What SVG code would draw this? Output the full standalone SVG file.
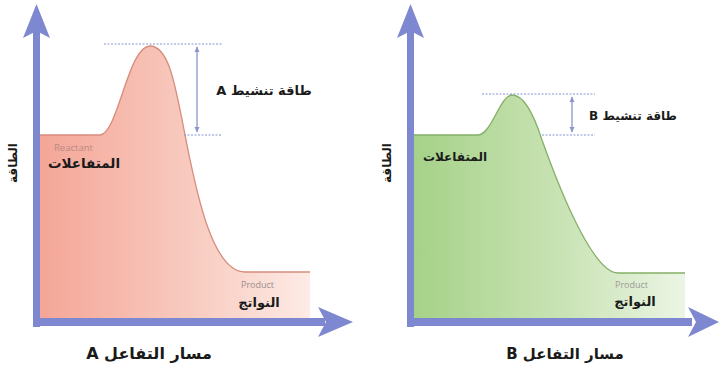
<svg xmlns="http://www.w3.org/2000/svg" width="720" height="369" viewBox="0 0 720 369">
<defs>
<linearGradient id="gA" gradientUnits="userSpaceOnUse" x1="40" y1="0" x2="310" y2="0">
<stop offset="0" stop-color="#f4a697"/><stop offset="0.55" stop-color="#f8cabf"/><stop offset="1" stop-color="#fdebe5"/>
</linearGradient>
<linearGradient id="gB" gradientUnits="userSpaceOnUse" x1="414" y1="0" x2="685" y2="0">
<stop offset="0" stop-color="#a6d288"/><stop offset="0.55" stop-color="#c9e3b5"/><stop offset="1" stop-color="#ecf5e4"/>
</linearGradient>
<marker id="ah" viewBox="0 0 6 6" refX="5" refY="3" markerWidth="6" markerHeight="6" orient="auto-start-reverse" markerUnits="userSpaceOnUse">
<path d="M0,0.5 L5.5,3 L0,5.5 Z" fill="#8a95cc"/>
</marker>
</defs>
<style>
.axis{fill:#7d88d0}
.dot{stroke:#8592d2;stroke-width:1;stroke-dasharray:2 1.5;fill:none}
.dbl{stroke:#8a95cc;stroke-width:1.3;fill:none}
.ar{font-family:"DejaVu Sans",sans-serif;font-weight:bold;fill:#1a1a1a;text-anchor:middle;direction:rtl;unicode-bidi:embed}
.en{font-family:"Open Sans","Liberation Sans",sans-serif}
.title{font-family:"DejaVu Sans",sans-serif;font-weight:bold;fill:#1a1a1a;text-anchor:middle;direction:rtl;unicode-bidi:embed}
</style>
<rect width="720" height="369" fill="#ffffff"/>

<g id="chartA">
<path d="M40,135 H100 C118,134 128,46 150,46 C170,46 176,90 186,140 C196,190 212,272 245,272 H310 V322 H40 Z" fill="url(#gA)"/>
<path d="M40,135 H100 C118,134 128,46 150,46 C170,46 176,90 186,140 C196,190 212,272 245,272 H310" fill="none" stroke="#d88c7d" stroke-width="1.3"/>
</g>
<g id="chartB">
<path d="M414,135 H478 C492,134 500,95 512,95 C524,95 534,115 542,140 C552,168 590,273 618,273 H685 V322 H414 Z" fill="url(#gB)"/>
<path d="M414,135 H478 C492,134 500,95 512,95 C524,95 534,115 542,140 C552,168 590,273 618,273 H685" fill="none" stroke="#84b067" stroke-width="1.3"/>
</g>

<g id="axisA">
<rect class="axis" x="33" y="28" width="7" height="299"/>
<polygon class="axis" points="36.5,4 50,38 36.5,31 23,38"/>
<rect class="axis" x="33" y="318" width="292" height="8"/>
<polygon class="axis" points="353,322 318,307 326,322 318,337"/>
</g>
<g id="axisB">
<rect class="axis" x="407" y="28" width="7" height="299"/>
<polygon class="axis" points="410.5,4 424,38 410.5,31 397,38"/>
<rect class="axis" x="407" y="318" width="285" height="8"/>
<polygon class="axis" points="719,322 688,307 696,322 688,337"/>
</g>

<g id="connectors">
<line class="dot" x1="104" y1="44" x2="222" y2="44"/>
<line class="dot" x1="184" y1="135" x2="222" y2="135"/>
<line class="dbl" x1="197" y1="47" x2="197" y2="132" marker-start="url(#ah)" marker-end="url(#ah)"/>
<line class="dot" x1="482" y1="94" x2="595" y2="94"/>
<line class="dot" x1="542" y1="135" x2="595" y2="135"/>
<line class="dbl" x1="572" y1="97" x2="572" y2="132" marker-start="url(#ah)" marker-end="url(#ah)"/>
</g>

<g id="labelsA">
<text class="ar" x="264" y="95" font-size="13">طاقة تنشيط A</text>
<text class="en" x="54" y="151" font-size="9.5" fill="#b98a82">Reactant</text>
<text class="ar" x="84" y="168" font-size="13.5">المتفاعلات</text>
<text class="ar" x="0" y="0" font-size="12" transform="translate(17,163) rotate(-90)">الطاقة</text>
<text class="en" x="241" y="288" font-size="9" fill="#9a8e8c">Product</text>
<text class="ar" x="259" y="307" font-size="13">النواتج</text>
<text class="title" x="149" y="359" font-size="16">مسار التفاعل A</text>
</g>
<g id="labelsB">
<text class="ar" x="633" y="120" font-size="12">طاقة تنشيط B</text>
<text class="ar" x="455" y="161" font-size="12">المتفاعلات</text>
<text class="ar" x="0" y="0" font-size="12" transform="translate(391,163) rotate(-90)">الطاقة</text>
<text class="en" x="615" y="288" font-size="9" fill="#9a9a98">Product</text>
<text class="ar" x="635" y="306" font-size="13">النواتج</text>
<text class="title" x="565" y="359" font-size="15">مسار التفاعل B</text>
</g>
</svg>
